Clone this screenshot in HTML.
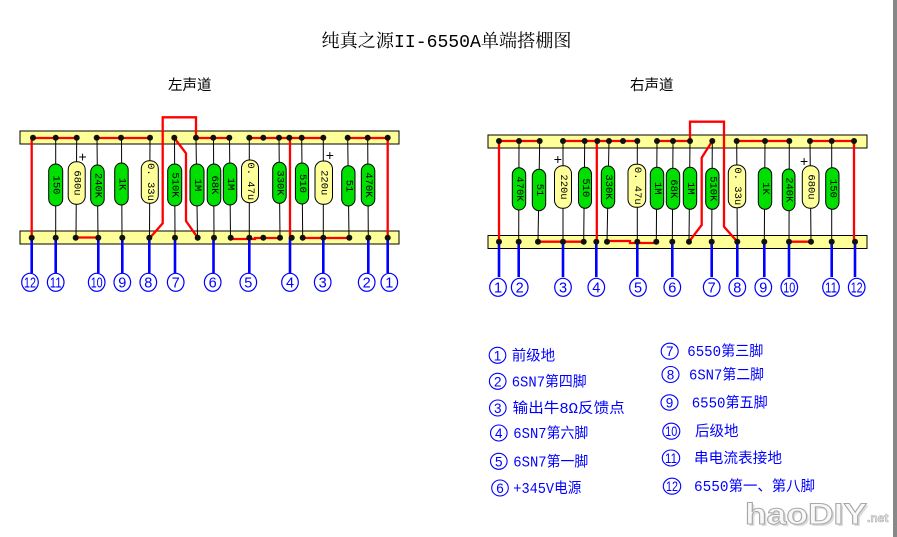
<!DOCTYPE html>
<html><head><meta charset="utf-8"><style>
html,body{margin:0;padding:0;background:#fff;}
svg{display:block;}
.lb{font-family:"Liberation Mono","Noto Sans CJK SC",monospace;font-size:10.5px;fill:#000;}
.cn{font-family:"Liberation Sans",sans-serif;fill:#0000ff;}
.lg{font-family:"Liberation Mono","Noto Sans CJK SC",monospace;font-size:14.5px;fill:#0000ff;}
</style></head><body>
<svg width="897" height="537" viewBox="0 0 897 537" xmlns="http://www.w3.org/2000/svg">
<rect x="0" y="0" width="897" height="537" fill="#fff"/>
<rect x="893" y="0" width="4" height="537" fill="#888"/>

<text x="321.5" y="47" font-family="'Liberation Mono','Noto Serif CJK SC',serif" font-size="18" textLength="250" lengthAdjust="spacingAndGlyphs" fill="#000">纯真之源II-6550A单端搭棚图</text>
<text x="168" y="90" font-family="'Liberation Sans','Noto Sans CJK SC',sans-serif" font-size="14.5" fill="#000">左声道</text>
<text x="630" y="90" font-family="'Liberation Sans','Noto Sans CJK SC',sans-serif" font-size="14.5" fill="#000">右声道</text>

<!-- LEFT BOARD -->
<rect x="20" y="131" width="379" height="13" fill="#ffff99" stroke="#000" stroke-width="1"/>
<rect x="20" y="231" width="379" height="13" fill="#ffff99" stroke="#000" stroke-width="1"/>

<g stroke="#000" stroke-width="1">
<line x1="55.7" y1="138" x2="55.7" y2="238"/>
<line x1="76.7" y1="138" x2="76" y2="238"/>
<line x1="97" y1="138" x2="98" y2="238"/>
<line x1="121.5" y1="138" x2="122" y2="238"/>
<line x1="150" y1="138" x2="149.5" y2="238"/>
<line x1="174.5" y1="138" x2="175" y2="238"/>
<line x1="196" y1="138" x2="197.5" y2="238"/>
<line x1="213.5" y1="138" x2="214" y2="238"/>
<line x1="229.5" y1="138" x2="230.5" y2="238"/>
<line x1="249.3" y1="138" x2="249.3" y2="238"/>
<line x1="279" y1="138" x2="280" y2="238"/>
<line x1="301.7" y1="138" x2="302.7" y2="238"/>
<line x1="323.3" y1="138" x2="323.3" y2="238"/>
<line x1="347.7" y1="138" x2="349" y2="238"/>
<line x1="367.7" y1="138" x2="368.3" y2="238"/>
</g>

<g stroke="#000" stroke-width="1">
<rect x="48.7" y="164" width="14" height="42" rx="7" fill="#00e000"/>
<rect x="68.2" y="161.7" width="17" height="42.6" rx="8" fill="#ffff99"/>
<rect x="90.7" y="165" width="13.5" height="41" rx="7" fill="#00e000"/>
<rect x="114.7" y="163" width="13.5" height="42" rx="7" fill="#00e000"/>
<rect x="141.3" y="160.7" width="17" height="42.6" rx="8" fill="#ffff99"/>
<rect x="167.7" y="164" width="14" height="42" rx="7" fill="#00e000"/>
<rect x="190" y="164" width="14" height="42" rx="7" fill="#00e000"/>
<rect x="207.2" y="164" width="13.6" height="42" rx="7" fill="#00e000"/>
<rect x="223.3" y="163" width="13.5" height="42" rx="7" fill="#00e000"/>
<rect x="241.5" y="160" width="17" height="42.7" rx="8" fill="#ffff99"/>
<rect x="272.7" y="162.3" width="13.5" height="41" rx="7" fill="#00e000"/>
<rect x="295.4" y="163" width="13.2" height="41" rx="7" fill="#00e000"/>
<rect x="315" y="161" width="17.5" height="43.3" rx="8" fill="#ffff99"/>
<rect x="341.7" y="165.7" width="13.3" height="40.3" rx="7" fill="#00e000"/>
<rect x="361.3" y="164" width="13.5" height="42" rx="7" fill="#00e000"/>
</g>
<g class="lb" text-anchor="middle" dominant-baseline="central" xml:space="preserve">
<text transform="translate(55.7,185) rotate(90)">150</text>
<text transform="translate(76.7,183) rotate(90)">680u</text>
<text transform="translate(97.5,185.5) rotate(90)">240K</text>
<text transform="translate(121.5,184) rotate(90)">1K</text>
<text transform="translate(149.8,182) rotate(90)">0. 33u</text>
<text transform="translate(174.7,185) rotate(90)">510K</text>
<text transform="translate(197,185) rotate(90)">1M</text>
<text transform="translate(214,185) rotate(90)">68K</text>
<text transform="translate(230,184) rotate(90)">1M</text>
<text transform="translate(250,181.3) rotate(90)">0. 47u</text>
<text transform="translate(279.5,183) rotate(90)">330K</text>
<text transform="translate(302,183.5) rotate(90)">510</text>
<text transform="translate(323.7,182.7) rotate(90)">220u</text>
<text transform="translate(348.4,186) rotate(90)">51</text>
<text transform="translate(368,185) rotate(90)">470K</text>
</g>
<g font-family="'Liberation Sans',sans-serif" font-size="14" fill="#000">
<text x="78.5" y="161.5">+</text>
<text x="325.8" y="160">+</text>
</g>

<g stroke="#ff0000" stroke-width="2.3" fill="none">
<path d="M31.7,138 H76.7"/>
<path d="M96.7,138 H150"/>
<path d="M196,138 H229.3"/>
<path d="M249.3,138 H323.3"/>
<path d="M346.7,138 H387.7"/>
<path d="M31.7,138 V238"/>
<path d="M196,138 V117.3 H162.7 V223.3 L150,237.7"/>
<path d="M174.3,138 L186,153.3 V221 L197.7,237.7"/>
<path d="M75.7,237.5 H98.3"/>
<path d="M230.7,239 H255 V238 H280"/>
<path d="M302.7,238 H351.7"/>
<path d="M290,137.5 V238"/>
<path d="M387.7,138 V238"/>
</g>

<g stroke="#0000ff" stroke-width="2.6">
<line x1="31.7" y1="238" x2="31.7" y2="273"/>
<line x1="55.7" y1="238" x2="55.7" y2="273"/>
<line x1="98.3" y1="238" x2="98.3" y2="273"/>
<line x1="122.3" y1="238" x2="122.3" y2="273"/>
<line x1="149.3" y1="238" x2="149.3" y2="273"/>
<line x1="175" y1="238" x2="175" y2="273"/>
<line x1="213.5" y1="238" x2="213.5" y2="273"/>
<line x1="249.3" y1="238" x2="249.3" y2="273"/>
<line x1="290" y1="238" x2="290" y2="273"/>
<line x1="323.3" y1="238" x2="323.3" y2="273"/>
<line x1="368.3" y1="238" x2="368.3" y2="273"/>
<line x1="387.7" y1="238" x2="387.7" y2="273"/>
</g>

<g fill="#111">
<circle cx="33" cy="137.7" r="3"/><circle cx="55.7" cy="137.7" r="3"/><circle cx="76.7" cy="137.7" r="3"/><circle cx="96.7" cy="137.7" r="3"/><circle cx="121" cy="137.7" r="3"/><circle cx="150" cy="137.7" r="3"/><circle cx="174.3" cy="137.7" r="3"/><circle cx="196" cy="137.7" r="3"/><circle cx="213.3" cy="137.7" r="3"/><circle cx="229.3" cy="137.7" r="3"/><circle cx="249.3" cy="137.7" r="3"/><circle cx="263.3" cy="137.7" r="3"/><circle cx="279" cy="137.7" r="3"/><circle cx="289.3" cy="137.7" r="3"/><circle cx="301.7" cy="137.7" r="3"/><circle cx="323.3" cy="137.7" r="3"/><circle cx="347.7" cy="137.7" r="3"/><circle cx="367.7" cy="137.7" r="3"/><circle cx="387.7" cy="137.7" r="3"/>
<circle cx="31.7" cy="237.7" r="3"/><circle cx="55.7" cy="237.7" r="3"/><circle cx="75.7" cy="237.7" r="3"/><circle cx="98.3" cy="237.7" r="3"/><circle cx="122.3" cy="237.7" r="3"/><circle cx="149.3" cy="237.7" r="3"/><circle cx="175" cy="237.7" r="3"/><circle cx="197.7" cy="237.7" r="3"/><circle cx="214" cy="237.7" r="3"/><circle cx="230.7" cy="237.7" r="3"/><circle cx="249.3" cy="237.7" r="3"/><circle cx="263.3" cy="237.7" r="3"/><circle cx="280" cy="237.7" r="3"/><circle cx="291.7" cy="237.7" r="3"/><circle cx="302.7" cy="237.7" r="3"/><circle cx="323.3" cy="237.7" r="3"/><circle cx="349.3" cy="237.7" r="3"/><circle cx="368.3" cy="237.7" r="3"/><circle cx="387.7" cy="237.7" r="3"/>
</g>

<g fill="#fff" stroke="#0000ff" stroke-width="1.2">
<ellipse cx="30" cy="282.3" rx="8.3" ry="9"/><ellipse cx="55.7" cy="282.3" rx="8.3" ry="9"/><ellipse cx="96.7" cy="282.3" rx="8.3" ry="9"/><ellipse cx="122.3" cy="282.3" rx="8.3" ry="9"/><ellipse cx="148.3" cy="282.3" rx="8.3" ry="9"/><ellipse cx="175.7" cy="282.3" rx="8.3" ry="9"/><ellipse cx="212.7" cy="282.3" rx="8.3" ry="9"/><ellipse cx="248.3" cy="282.3" rx="8.3" ry="9"/><ellipse cx="290" cy="282.3" rx="8.3" ry="9"/><ellipse cx="322.7" cy="282.3" rx="8.3" ry="9"/><ellipse cx="366.7" cy="282.3" rx="8.3" ry="9"/><ellipse cx="389.3" cy="282.3" rx="8.3" ry="9"/>
</g>
<g class="cn" font-size="14.5" text-anchor="middle">
<text x="30" y="287.5" textLength="12" lengthAdjust="spacingAndGlyphs">12</text>
<text x="55.7" y="287.5" textLength="12" lengthAdjust="spacingAndGlyphs">11</text>
<text x="96.7" y="287.5" textLength="12" lengthAdjust="spacingAndGlyphs">10</text>
<text x="122.3" y="287.5">9</text>
<text x="148.3" y="287.5">8</text>
<text x="175.7" y="287.5">7</text>
<text x="212.7" y="287.5">6</text>
<text x="248.3" y="287.5">5</text>
<text x="290" y="287.5">4</text>
<text x="322.7" y="287.5">3</text>
<text x="366.7" y="287.5">2</text>
<text x="389.3" y="287.5">1</text>
</g>

<!-- RIGHT BOARD -->
<rect x="488" y="135" width="379" height="13" fill="#ffff99" stroke="#000" stroke-width="1"/>
<rect x="488" y="235.5" width="379" height="13" fill="#ffff99" stroke="#000" stroke-width="1"/>

<g stroke="#000" stroke-width="1">
<line x1="519" y1="141" x2="518.7" y2="242"/>
<line x1="539.7" y1="141" x2="538" y2="242"/>
<line x1="563" y1="141" x2="563" y2="242"/>
<line x1="584.7" y1="141" x2="583.7" y2="242"/>
<line x1="609" y1="141" x2="607" y2="242"/>
<line x1="637.3" y1="141" x2="637.3" y2="242"/>
<line x1="657" y1="141" x2="656.3" y2="242"/>
<line x1="673" y1="141" x2="672.3" y2="242"/>
<line x1="690" y1="141" x2="689" y2="242"/>
<line x1="712.3" y1="141" x2="711.7" y2="242"/>
<line x1="736.7" y1="141" x2="737.3" y2="242"/>
<line x1="765" y1="141" x2="764.3" y2="242"/>
<line x1="789.3" y1="141" x2="789" y2="242"/>
<line x1="810" y1="141" x2="811" y2="242"/>
<line x1="831.7" y1="141" x2="831.7" y2="242"/>
</g>

<g stroke="#000" stroke-width="1">
<rect x="512.3" y="167.7" width="13.4" height="42.3" rx="7" fill="#00e000"/>
<rect x="532.3" y="169.3" width="13.4" height="41.4" rx="7" fill="#00e000"/>
<rect x="554.5" y="165.7" width="17" height="42.6" rx="8" fill="#ffff99"/>
<rect x="578.5" y="167.3" width="13" height="41" rx="7" fill="#00e000"/>
<rect x="601.3" y="166" width="13.4" height="42.3" rx="7" fill="#00e000"/>
<rect x="628" y="164.3" width="17.7" height="43" rx="8" fill="#ffff99"/>
<rect x="650.3" y="167.3" width="13.4" height="42" rx="7" fill="#00e000"/>
<rect x="666.3" y="168.3" width="13.4" height="41" rx="7" fill="#00e000"/>
<rect x="683.3" y="167.3" width="13.4" height="42" rx="7" fill="#00e000"/>
<rect x="705.7" y="168.3" width="13.3" height="41" rx="7" fill="#00e000"/>
<rect x="728.3" y="165" width="17.4" height="42.7" rx="8" fill="#ffff99"/>
<rect x="758.3" y="167.7" width="13.4" height="41.6" rx="7" fill="#00e000"/>
<rect x="782.3" y="169" width="12.7" height="41.7" rx="7" fill="#00e000"/>
<rect x="802.3" y="165.7" width="16.7" height="42.6" rx="8" fill="#ffff99"/>
<rect x="825.7" y="167.7" width="13.3" height="41.6" rx="7" fill="#00e000"/>
</g>
<g class="lb" text-anchor="middle" dominant-baseline="central" xml:space="preserve">
<text transform="translate(519,189) rotate(90)">470K</text>
<text transform="translate(539,190) rotate(90)">51</text>
<text transform="translate(563,187) rotate(90)">220u</text>
<text transform="translate(585,187.8) rotate(90)">510</text>
<text transform="translate(608,187) rotate(90)">330K</text>
<text transform="translate(636.8,185.8) rotate(90)">0. 47u</text>
<text transform="translate(657,188.3) rotate(90)">1M</text>
<text transform="translate(673,188.8) rotate(90)">68K</text>
<text transform="translate(690,188.3) rotate(90)">1M</text>
<text transform="translate(712.3,188.8) rotate(90)">510K</text>
<text transform="translate(737,186.3) rotate(90)">0. 33u</text>
<text transform="translate(765,188.5) rotate(90)">1K</text>
<text transform="translate(788.7,189.8) rotate(90)">240K</text>
<text transform="translate(810.7,187) rotate(90)">680u</text>
<text transform="translate(832.3,188.5) rotate(90)">150</text>
</g>
<g font-family="'Liberation Sans',sans-serif" font-size="14" fill="#000">
<text x="553.8" y="164">+</text>
<text x="800" y="166">+</text>
</g>

<g stroke="#ff0000" stroke-width="2.3" fill="none">
<path d="M499,141 H539.7"/>
<path d="M563,141 H637.3"/>
<path d="M657,141 H690"/>
<path d="M736.7,141 H789.3"/>
<path d="M810,141 H854"/>
<path d="M499,141 V242"/>
<path d="M596.8,141 V242"/>
<path d="M854,141 V242"/>
<path d="M538,241.7 H584.7"/>
<path d="M607,241 H630 V243 H656.3"/>
<path d="M789,241.7 H811"/>
<path d="M690,141 V121.7 H724 V226.7 L737.3,241.7"/>
<path d="M712.3,141 L701.7,157.7 V225 L689,241.7"/>
</g>

<g stroke="#0000ff" stroke-width="2.6">
<line x1="499" y1="242" x2="499" y2="277"/>
<line x1="518.7" y1="242" x2="518.7" y2="277"/>
<line x1="563" y1="242" x2="563" y2="277"/>
<line x1="596.3" y1="242" x2="596.3" y2="277"/>
<line x1="637.3" y1="242" x2="637.3" y2="277"/>
<line x1="672.3" y1="242" x2="672.3" y2="277"/>
<line x1="711.7" y1="242" x2="711.7" y2="277"/>
<line x1="737.3" y1="242" x2="737.3" y2="277"/>
<line x1="764.3" y1="242" x2="764.3" y2="277"/>
<line x1="789" y1="242" x2="789" y2="277"/>
<line x1="831.7" y1="242" x2="831.7" y2="277"/>
<line x1="855" y1="242" x2="855" y2="277"/>
</g>

<g fill="#111">
<circle cx="499" cy="141" r="3"/><circle cx="519" cy="141" r="3"/><circle cx="539.7" cy="141" r="3"/><circle cx="563" cy="141" r="3"/><circle cx="584.7" cy="141" r="3"/><circle cx="597.3" cy="141" r="3"/><circle cx="609" cy="141" r="3"/><circle cx="623" cy="141" r="3"/><circle cx="637.3" cy="141" r="3"/><circle cx="657" cy="141" r="3"/><circle cx="673" cy="141" r="3"/><circle cx="690" cy="141" r="3"/><circle cx="712.3" cy="141" r="3"/><circle cx="736.7" cy="141" r="3"/><circle cx="765" cy="141" r="3"/><circle cx="789.3" cy="141" r="3"/><circle cx="810" cy="141" r="3"/><circle cx="831.7" cy="141" r="3"/><circle cx="854" cy="141" r="3"/>
<circle cx="499" cy="241.7" r="3"/><circle cx="518.7" cy="241.7" r="3"/><circle cx="538" cy="241.7" r="3"/><circle cx="563" cy="241.7" r="3"/><circle cx="583.7" cy="241.7" r="3"/><circle cx="596.3" cy="241.7" r="3"/><circle cx="607" cy="241.7" r="3"/><circle cx="637.3" cy="241.7" r="3"/><circle cx="656.3" cy="241.7" r="3"/><circle cx="672.3" cy="241.7" r="3"/><circle cx="689" cy="241.7" r="3"/><circle cx="711.7" cy="241.7" r="3"/><circle cx="737.3" cy="241.7" r="3"/><circle cx="764.3" cy="241.7" r="3"/><circle cx="789" cy="241.7" r="3"/><circle cx="811" cy="241.7" r="3"/><circle cx="831.7" cy="241.7" r="3"/><circle cx="855" cy="241.7" r="3"/>
</g>

<g fill="#fff" stroke="#0000ff" stroke-width="1.2">
<ellipse cx="498" cy="287.3" rx="8.3" ry="9"/><ellipse cx="519.7" cy="287.3" rx="8.3" ry="9"/><ellipse cx="563" cy="287.3" rx="8.3" ry="9"/><ellipse cx="596.3" cy="287.3" rx="8.3" ry="9"/><ellipse cx="638" cy="287.3" rx="8.3" ry="9"/><ellipse cx="672.3" cy="287.3" rx="8.3" ry="9"/><ellipse cx="711.7" cy="287.3" rx="8.3" ry="9"/><ellipse cx="737.3" cy="287.3" rx="8.3" ry="9"/><ellipse cx="763.3" cy="287.3" rx="8.3" ry="9"/><ellipse cx="789.3" cy="287.3" rx="8.3" ry="9"/><ellipse cx="831" cy="287.3" rx="8.3" ry="9"/><ellipse cx="856.7" cy="287.3" rx="8.3" ry="9"/>
</g>
<g class="cn" font-size="14.5" text-anchor="middle">
<text x="498" y="292.5">1</text>
<text x="519.7" y="292.5">2</text>
<text x="563" y="292.5">3</text>
<text x="596.3" y="292.5">4</text>
<text x="638" y="292.5">5</text>
<text x="672.3" y="292.5">6</text>
<text x="711.7" y="292.5">7</text>
<text x="737.3" y="292.5">8</text>
<text x="763.3" y="292.5">9</text>
<text x="789.3" y="292.5" textLength="12" lengthAdjust="spacingAndGlyphs">10</text>
<text x="831" y="292.5" textLength="12" lengthAdjust="spacingAndGlyphs">11</text>
<text x="856.7" y="292.5" textLength="12" lengthAdjust="spacingAndGlyphs">12</text>
</g>

<!-- LEGEND -->
<g fill="none" stroke="#0000ff" stroke-width="1.1">
<ellipse cx="497.5" cy="355.3" rx="8.3" ry="8"/>
<ellipse cx="497.7" cy="381.3" rx="8.3" ry="8"/>
<ellipse cx="497.8" cy="408" rx="8.3" ry="8"/>
<ellipse cx="498.8" cy="433" rx="8.3" ry="8"/>
<ellipse cx="498.8" cy="461.3" rx="8.3" ry="8"/>
<ellipse cx="500" cy="488" rx="8.3" ry="8"/>
<ellipse cx="669.7" cy="351.2" rx="8.5" ry="8"/>
<ellipse cx="670.5" cy="374.5" rx="8.5" ry="8"/>
<ellipse cx="669.5" cy="402.5" rx="8.5" ry="7.7"/>
<ellipse cx="671.3" cy="431.2" rx="8.5" ry="8"/>
<ellipse cx="671" cy="458" rx="8.7" ry="8"/>
<ellipse cx="672" cy="486.2" rx="8.7" ry="8"/>
</g>
<g class="cn" font-size="13.5" text-anchor="middle">
<text x="497.5" y="360.3">1</text>
<text x="497.7" y="386.3">2</text>
<text x="497.8" y="413">3</text>
<text x="498.8" y="438">4</text>
<text x="498.8" y="466.3">5</text>
<text x="500" y="493">6</text>
<text x="669.7" y="356.2">7</text>
<text x="670.5" y="379.5">8</text>
<text x="669.5" y="407.5">9</text>
<text x="671.3" y="436.2" textLength="12" lengthAdjust="spacingAndGlyphs">10</text>
<text x="671" y="463" textLength="12" lengthAdjust="spacingAndGlyphs">11</text>
<text x="672" y="491.2" textLength="12" lengthAdjust="spacingAndGlyphs">12</text>
</g>
<g class="lg">
<text x="511.7" y="360.5">前级地</text>
<text x="511.7" y="386.5" textLength="75" lengthAdjust="spacingAndGlyphs">6SN7第四脚</text>
<text x="512.7" y="413" textLength="112" lengthAdjust="spacingAndGlyphs">输出牛8Ω反馈点</text>
<text x="513.3" y="438" textLength="75" lengthAdjust="spacingAndGlyphs">6SN7第六脚</text>
<text x="513.3" y="466.3" textLength="75" lengthAdjust="spacingAndGlyphs">6SN7第一脚</text>
<text x="513.3" y="493" textLength="68" lengthAdjust="spacingAndGlyphs">+345V电源</text>
<text x="687.3" y="356.2" textLength="76" lengthAdjust="spacingAndGlyphs">6550第三脚</text>
<text x="689" y="379.5" textLength="75" lengthAdjust="spacingAndGlyphs">6SN7第二脚</text>
<text x="691.7" y="407.5" textLength="76" lengthAdjust="spacingAndGlyphs">6550第五脚</text>
<text x="695" y="436.2">后级地</text>
<text x="694" y="463" textLength="88" lengthAdjust="spacingAndGlyphs">串电流表接地</text>
<text x="694" y="491.2" textLength="121" lengthAdjust="spacingAndGlyphs">6550第一、第八脚</text>
</g>

<!-- logo -->
<g font-family="'Liberation Sans',sans-serif" font-weight="bold">
<text x="747" y="526" font-size="30" textLength="122" lengthAdjust="spacingAndGlyphs" fill="#bbb" opacity="0.5">haoDIY</text>
<text x="745" y="524" font-size="30" textLength="122" lengthAdjust="spacingAndGlyphs" fill="#f8f8f8" stroke="#a8a8a8" stroke-width="1">haoDIY</text>
<text x="867" y="522" font-size="12" fill="#eee" stroke="#aaa" stroke-width="0.6">.net</text>
</g>
</svg>
</body></html>
